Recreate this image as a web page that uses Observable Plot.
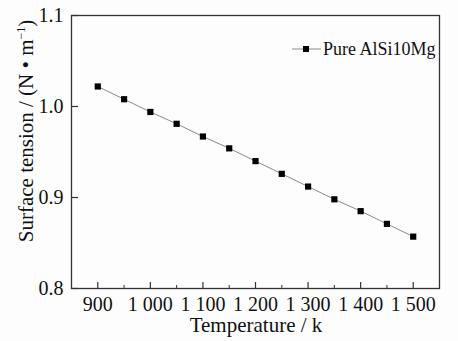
<!DOCTYPE html>
<html><head><meta charset="utf-8">
<script src="https://cdn.jsdelivr.net/npm/d3@7"></script>
<script src="https://cdn.jsdelivr.net/npm/@observablehq/plot@0.6"></script>
<style>
body{margin:0;background:#fdfdfd;}
#chart svg{background:#fdfdfd;}
</style>
</head><body><div id="chart"></div>
<script>
const temperature = [900, 950, 1000, 1050, 1100, 1150, 1200, 1250, 1300, 1350, 1400, 1450, 1500];
const surfaceTension = [1.022, 1.008, 0.994, 0.981, 0.967, 0.954, 0.940, 0.926, 0.912, 0.898, 0.885, 0.871, 0.857];
const xTicks = [900, 1000, 1100, 1200, 1300, 1400, 1500];
const xMinorTicks = [950, 1050, 1150, 1250, 1350, 1450];
const yTicks = [0.8, 0.9, 1.0, 1.1];
const seriesName = "Pure AlSi10Mg";

const data = temperature.map((t, i) => ({t, s: surfaceTension[i]}));
const fmtX = d => d >= 1000 ? String(d).replace(/(\d)(\d{3})$/, "$1 $2") : String(d);
const font = "'Liberation Serif', 'Times New Roman', serif";

const W = 458, H = 341, mL = 71, mR = 19, mT = 15, mB = 53;
const fw = W - mL - mR, fh = H - mT - mB;

const plot = Plot.plot({
  width: W, height: H,
  marginLeft: mL, marginRight: mR, marginTop: mT, marginBottom: mB,
  style: {fontFamily: font, fontSize: "20px", background: "#fdfdfd", color: "#111"},
  x: {domain: [850, 1550]},
  y: {domain: [0.8, 1.1]},
  marks: [
    Plot.axisX(xTicks, {tickSize: 0, tickPadding: 8, tickFormat: fmtX, fontSize: 20, fill: "#111", label: null}),
    Plot.axisY(yTicks, {tickSize: 0, tickPadding: 8, tickFormat: d => d.toFixed(1), fontSize: 20, fill: "#111", label: null}),
    Plot.ruleX(xTicks, {insetTop: fh - 6, stroke: "#333", strokeWidth: 1.2}),
    Plot.ruleX(xMinorTicks, {insetTop: fh - 3, stroke: "#333", strokeWidth: 1}),
    Plot.ruleY(yTicks, {insetRight: fw - 7, stroke: "#333", strokeWidth: 1.2}),
    Plot.frame({stroke: "#333", strokeWidth: 1.3}),
    Plot.line(data, {x: "t", y: "s", stroke: "#8a8a8a", strokeWidth: 1}),
    Plot.dot(data, {x: "t", y: "s", symbol: "square", r: 3.5, fill: "#000", stroke: "none"})
  ]
});

const svg = d3.select(plot);
// axis titles
svg.append("text").attr("x", 256).attr("y", 332).attr("text-anchor", "middle")
  .attr("font-family", font).attr("font-size", 21).attr("fill", "#111").text("Temperature / k");
const yt = svg.append("text").attr("transform", "translate(33,131) rotate(-90)").attr("text-anchor", "middle")
  .attr("font-family", font).attr("font-size", 21).attr("fill", "#111");
yt.append("tspan").text("Surface tension / (N • m");
yt.append("tspan").attr("font-size", 12).attr("dy", -8).text("−1");
yt.append("tspan").attr("dy", 8).text(")");
// legend
const lg = svg.append("g");
lg.append("line").attr("x1", 292).attr("x2", 321).attr("y1", 49).attr("y2", 49).attr("stroke", "#8a8a8a");
lg.append("rect").attr("x", 303).attr("y", 46).attr("width", 6).attr("height", 6).attr("fill", "#000");
lg.append("text").attr("x", 323).attr("y", 55).attr("text-anchor", "start")
  .attr("font-family", font).attr("font-size", 18).attr("fill", "#111").text(seriesName);

document.getElementById("chart").appendChild(plot);
</script></body></html>
